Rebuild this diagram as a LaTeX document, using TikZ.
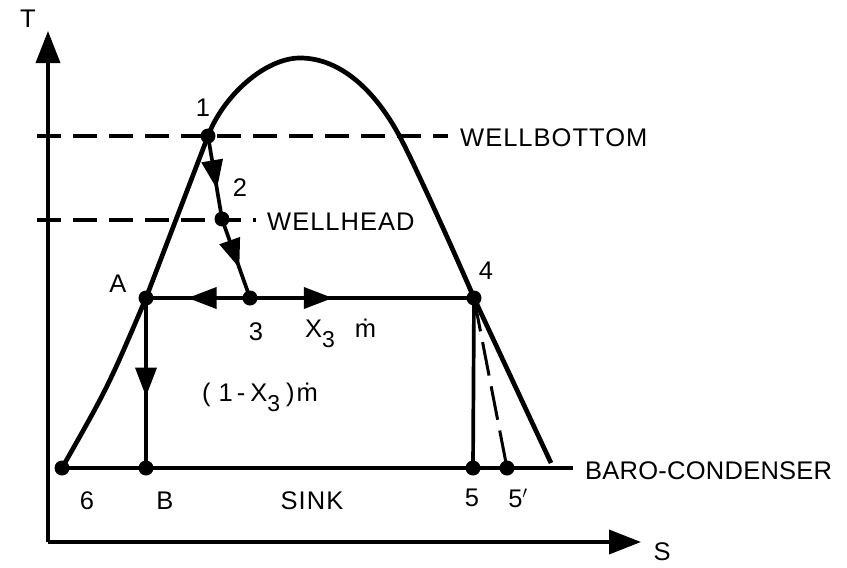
\documentclass[tikz,border=0pt]{standalone}
\usepackage{fontspec}
\setmainfont{Liberation Sans}[LetterSpace=4]
\usetikzlibrary{arrows.meta,decorations.markings}

\newcommand{\subthree}{\raisebox{-10pt}{\fontsize{23}{23}\selectfont 3}}

\begin{document}
\begin{tikzpicture}[x=1pt,y=-1pt,line width=3.7pt,
  every node/.style={font=\fontsize{25.5}{29}\selectfont},
  axistip/.style={-{Triangle[length=32pt,width=24pt]}},
  midarrow/.style={postaction={decorate},
    decoration={markings,mark=at position #1 with {\arrow{Triangle[length=29pt,width=21pt]}}}},
  level/.style={dash pattern=on 24pt off 12pt},
  expand/.style={line width=3pt,dash pattern=on 34pt off 11pt}]
  \useasboundingbox (0,0) rectangle (847,568);

  % axes
  \coordinate (o) at (48,542);
  \coordinate (tend) at (48,31);
  \coordinate (send) at (641,542);
  \draw[axistip] (o) -- (tend);
  \draw[axistip] (o) -- (send);
  \node (tlab) at (28,19) {T};
  \node (slab) at (662,552) {S};

  % state points
  \coordinate (p1) at (208,136);
  \coordinate (p2) at (222,219);
  \coordinate (p3) at (250,298);
  \coordinate (pA) at (146,298);
  \coordinate (p4) at (474,298);
  \coordinate (p6) at (62,468);
  \coordinate (pB) at (146,468);
  \coordinate (p5) at (473,468);
  \coordinate (p5p) at (507,468);
  \coordinate (top) at (300,58);
  \coordinate (vend) at (551,463);
  \coordinate (baro) at (573,468);

  % saturation dome
  \draw[line width=4.7pt,line join=round] (p6) .. controls (108,387) .. (pA) -- (p1)
    .. controls (223,96) and (265,58) .. (top)
    .. controls (340,58) and (375,90) .. (400,137)
    .. controls (415,165) and (460,265) .. (p4)
    -- (vend);

  % well levels
  \coordinate (wb1) at (37,136);
  \coordinate (wb2) at (448,136);
  \coordinate (wh1) at (37,220);
  \coordinate (wh2) at (256,220);
  \draw[level] (wb1) -- (wb2);
  \draw[level] (wh1) -- (wh2);
  \node[anchor=west] (wbot) at (455,138) {WELLBOTTOM};
  \node[anchor=west] (whead) at (262,222) {WELLHEAD};

  % flash process
  \draw[midarrow=0.64] (p1) -- (p2);
  \draw[midarrow=0.62] (p2) -- (p3);
  \draw[midarrow=0.6] (p3) -- (pA);
  \draw[midarrow=0.37] (p3) -- (p4);
  \draw[midarrow=0.58] (pA) -- (pB);
  \draw (p4) -- (p5);
  \draw[expand] (p4) -- (p5p);
  \draw (p6) -- (baro);

  \foreach \p in {p1,p2,p3,pA,p4,p6,pB,p5,p5p}
    \fill (\p) circle (7.5pt);

  % labels
  \node (l1) at (203,108) {1};
  \node (l2) at (240,188) {2};
  \node (l3) at (256,332) {3};
  \node (lA) at (118,284) {A};
  \node (l4) at (486,271) {4};
  \node (l6) at (87,501) {6};
  \node (lB) at (165,501) {B};
  \node (sink) at (312,501) {SINK};
  \node (l5) at (472,498) {5};
  \node (l5p) at (518,498) {5$'$};
  \node[anchor=west] (bc) at (580,471) {\addfontfeature{LetterSpace=1}BARO-CONDENSER};
  \node[anchor=west] (vap) at (300,333) {X\subthree\hspace{20pt}\.{m}};
  \node[anchor=west] (liq) at (197,397) {(\hspace{8pt}1\hspace{4pt}-\hspace{5pt}X\subthree\hspace{6pt})\hspace{2pt}\.{m}};
\end{tikzpicture}
\end{document}
